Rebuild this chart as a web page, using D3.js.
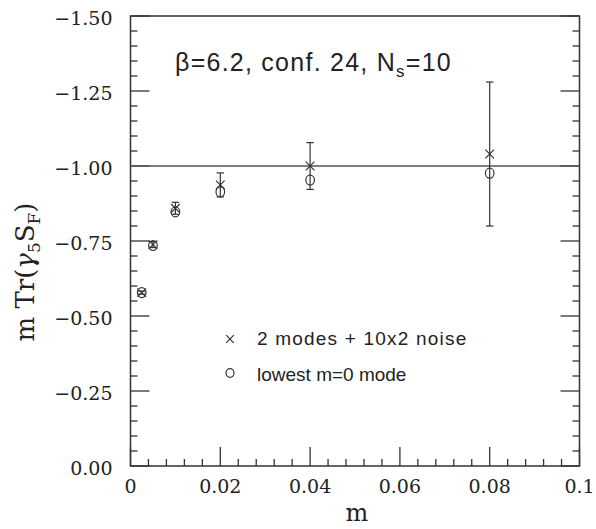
<!DOCTYPE html>
<html>
<head>
<meta charset="utf-8">
<script src="https://cdn.jsdelivr.net/npm/d3@7"></script>
<style>
  body { margin: 0; background: #fff; }
  svg text { fill: #222; }
</style>
</head>
<body>
<div id="chart"></div>
<script>
// values
var masses = [0.0025, 0.005, 0.01, 0.02, 0.04, 0.08];
var crossVals = [-0.578, -0.738, -0.859, -0.937, -1.0, -1.04];
var crossErr = [0.005, 0.01, 0.02, 0.04, 0.078, 0.24];
var circleVals = [-0.578, -0.735, -0.847, -0.914, -0.953, -0.976];
var yTicks = [0, -0.25, -0.5, -0.75, -1.0, -1.25, -1.5];
var xTicks = [0, 0.02, 0.04, 0.06, 0.08, 0.1];
var xTickLabels = ["0", "0.02", "0.04", "0.06", "0.08", "0.1"];
var refLine = -1.0;
var legendLabels = ["2 modes + 10x2 noise", "lowest m=0 mode"];

var width = 596, height = 529;
var plotL = 130.5, plotR = 579.5, plotT = 16, plotB = 466;
var ink = "#333";
var serif = "'DejaVu Serif', serif";
var sans = "'Liberation Sans', Arial, sans-serif";

var svg = d3.select("#chart").append("svg")
    .attr("width", width)
    .attr("height", height);

var x = d3.scaleLinear().domain([0, 0.1]).range([plotL, plotR]);
var y = d3.scaleLinear().domain([0, -1.5]).range([plotB, plotT]);

// frame
svg.append("rect")
    .attr("x", plotL).attr("y", plotT)
    .attr("width", plotR - plotL).attr("height", plotB - plotT)
    .attr("fill", "none").attr("stroke", ink).attr("stroke-width", 1.5);

// y ticks on left and right
var yMinor = d3.range(0, 31).map(function(i) { return -i * 0.05; });
yMinor.forEach(function(v, i) {
  var len = (i % 5 === 0) ? 19 : 7;
  svg.append("line").attr("x1", plotL).attr("x2", plotL + len)
      .attr("y1", y(v)).attr("y2", y(v)).attr("stroke", ink).attr("stroke-width", 1.3);
  svg.append("line").attr("x1", plotR).attr("x2", plotR - len)
      .attr("y1", y(v)).attr("y2", y(v)).attr("stroke", ink).attr("stroke-width", 1.3);
});

// x ticks on bottom only
var xMinor = d3.range(0, 26).map(function(i) { return i * 0.004; });
xMinor.forEach(function(v, i) {
  var len = (i % 5 === 0) ? 19 : 7;
  svg.append("line").attr("x1", x(v)).attr("x2", x(v))
      .attr("y1", plotB).attr("y2", plotB - len).attr("stroke", ink).attr("stroke-width", 1.3);
});

svg.selectAll(".ylab").data(yTicks).enter().append("text")
    .attr("x", plotL - 18).attr("y", function(d) { return y(d) + 8.5; })
    .attr("text-anchor", "end")
    .style("font-family", serif).style("font-size", "19px")
    .text(function(d) { return d === 0 ? "0.00" : "\u2212" + Math.abs(d).toFixed(2); });

svg.selectAll(".xlab").data(xTicks).enter().append("text")
    .attr("x", function(d) { return x(d); }).attr("y", plotB + 27)
    .attr("text-anchor", "middle")
    .style("font-family", serif).style("font-size", "19px")
    .text(function(d, i) { return xTickLabels[i]; });

// axis titles
svg.append("text")
    .attr("x", (plotL + plotR) / 2 + 2).attr("y", 521)
    .attr("text-anchor", "middle")
    .style("font-family", serif).style("font-size", "24px")
    .text("m");

var yl = svg.append("text")
    .attr("transform", "translate(34," + 272 + ") rotate(-90)")
    .attr("text-anchor", "middle")
    .style("font-family", serif).style("font-size", "26px");
yl.append("tspan").text("m Tr(");
yl.append("tspan").text("\u03b3").style("font-style", "italic");
yl.append("tspan").text("5").attr("dy", 6).style("font-size", "17px");
yl.append("tspan").text("S").attr("dy", -6);
yl.append("tspan").text("F").attr("dy", 6).style("font-size", "17px");
yl.append("tspan").text(")").attr("dy", -6);

// reference line at -1
svg.append("line")
    .attr("x1", plotL).attr("x2", plotR)
    .attr("y1", y(refLine)).attr("y2", y(refLine))
    .attr("stroke", "#555").attr("stroke-width", 1.5);

// error bars for crosses
var pts = masses.map(function(m, i) {
  return { m: m, c: crossVals[i], e: crossErr[i], o: circleVals[i] };
});
var eb = svg.selectAll(".eb").data(pts).enter().append("g")
    .attr("stroke", ink).attr("stroke-width", 1.2);
eb.append("line")
    .attr("x1", function(d) { return x(d.m); }).attr("x2", function(d) { return x(d.m); })
    .attr("y1", function(d) { return y(d.c - d.e); }).attr("y2", function(d) { return y(d.c + d.e); });
eb.append("line")
    .attr("x1", function(d) { return x(d.m) - 3.7; }).attr("x2", function(d) { return x(d.m) + 3.7; })
    .attr("y1", function(d) { return y(d.c - d.e); }).attr("y2", function(d) { return y(d.c - d.e); });
eb.append("line")
    .attr("x1", function(d) { return x(d.m) - 3.7; }).attr("x2", function(d) { return x(d.m) + 3.7; })
    .attr("y1", function(d) { return y(d.c + d.e); }).attr("y2", function(d) { return y(d.c + d.e); });

// cross markers
function cross(g, cx, cy, s) {
  g.append("path")
      .attr("d", "M" + (cx - s) + "," + (cy - s) + "L" + (cx + s) + "," + (cy + s) +
                 "M" + (cx - s) + "," + (cy + s) + "L" + (cx + s) + "," + (cy - s))
      .attr("stroke", ink).attr("stroke-width", 1.2).attr("fill", "none");
}
pts.forEach(function(d) { cross(svg, x(d.m), y(d.c), 4.3); });

// circle markers
svg.selectAll(".circ").data(pts).enter().append("ellipse")
    .attr("cx", function(d) { return x(d.m); })
    .attr("cy", function(d) { return y(d.o); })
    .attr("rx", 4.3).attr("ry", 5)
    .attr("fill", "none").attr("stroke", ink).attr("stroke-width", 1.2);

// annotation
var ann = svg.append("text")
    .attr("x", 175).attr("y", 71)
    .style("font-family", sans).style("font-size", "25px")
    .style("letter-spacing", "1.25px");
ann.append("tspan").text("\u03b2=6.2, conf. 24, N");
ann.append("tspan").text("s").attr("dy", 6).style("font-size", "17px");
ann.append("tspan").text("=10").attr("dy", -6);

// legend
cross(svg, 230, 339, 3.8);
svg.append("ellipse").attr("cx", 230).attr("cy", 373).attr("rx", 4).attr("ry", 4.3)
    .attr("fill", "none").attr("stroke", ink).attr("stroke-width", 1.2);
svg.selectAll(".leg").data(legendLabels).enter().append("text")
    .attr("x", 257).attr("y", function(d, i) { return 345 + i * 36; })
    .style("font-family", sans).style("font-size", "19px")
    .style("letter-spacing", function(d, i) { return i === 0 ? "1.2px" : "0px"; })
    .text(function(d) { return d; });
</script>
</body>
</html>
